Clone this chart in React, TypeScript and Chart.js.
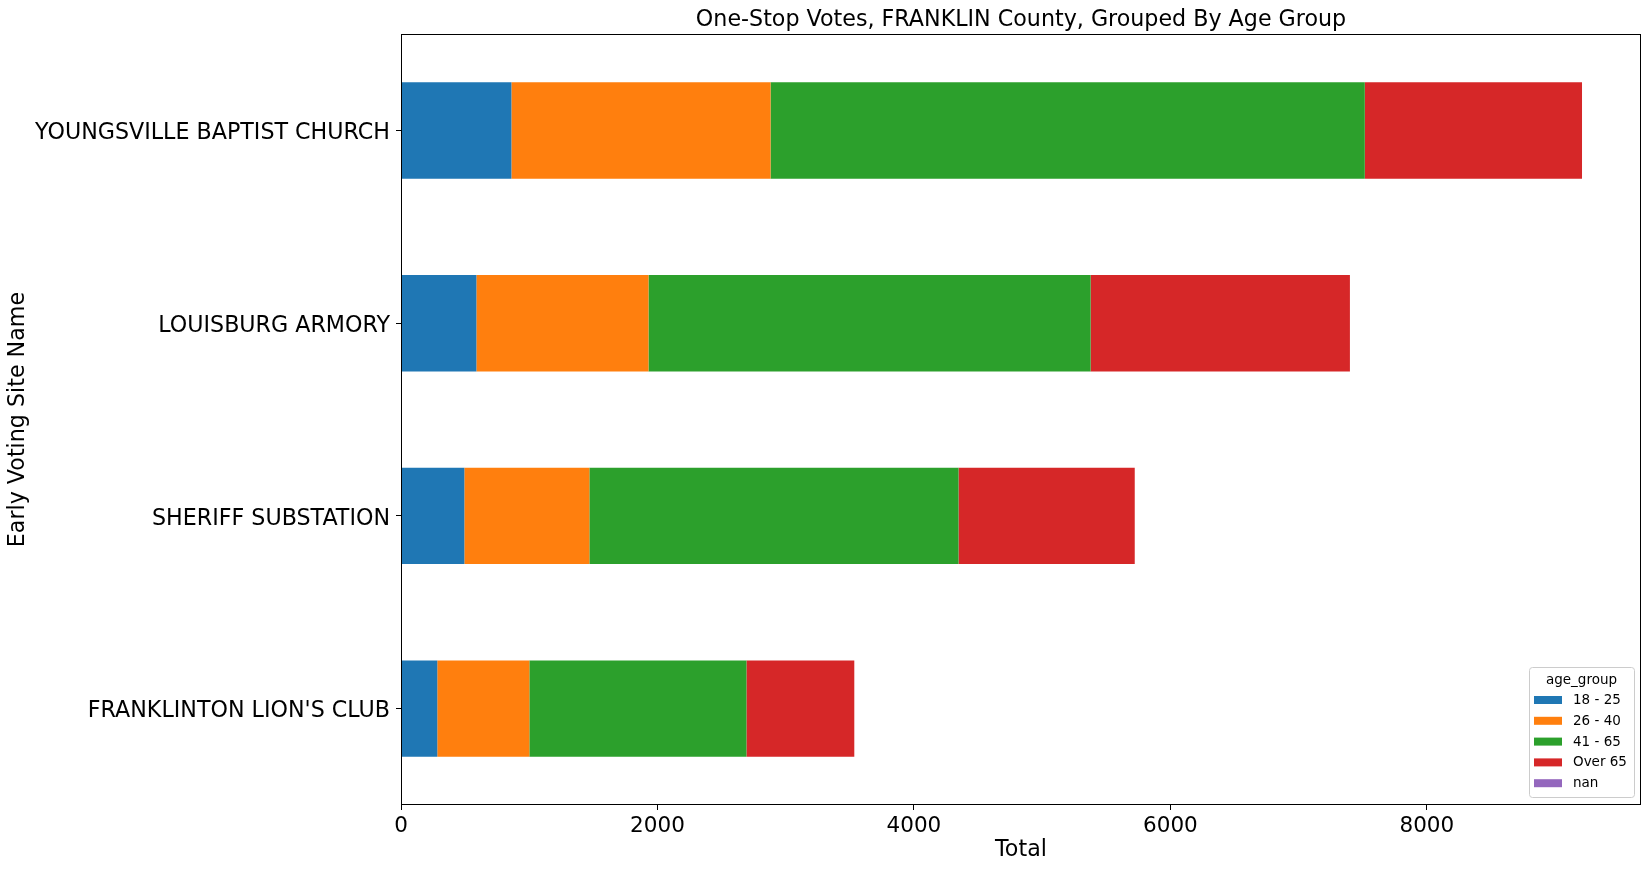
import React, { useEffect, useRef } from "react";
import { Chart, registerables } from "chart.js";

Chart.register(...registerables);

const titleText = "One-Stop Votes, FRANKLIN County, Grouped By Age Group";
const sites = [
  "YOUNGSVILLE BAPTIST CHURCH",
  "LOUISBURG ARMORY",
  "SHERIFF SUBSTATION",
  "FRANKLINTON LION'S CLUB",
];
const seriesNames = ["18 - 25", "26 - 40", "41 - 65", "Over 65", "nan"];
const age18to25 = [861, 588, 494, 283];
const age26to40 = [2021, 1342, 975, 718];
const age41to65 = [4634, 3448, 2879, 1693];
const ageOver65 = [1694, 2022, 1374, 841];
const ageNan: (number | null)[] = [null, null, null, null];
const seriesColors = ["#1f77b4", "#ff7f0e", "#2ca02c", "#d62728", "#9467bd"];
const xTickValues = [0, 2000, 4000, 6000, 8000];
const xMax = 9670;

const FONT = "'DejaVu Sans', 'Noto Sans', sans-serif";

const framePlugin = {
  id: "frame",
  afterDatasetsDraw(chart: any) {
    const { ctx, chartArea } = chart;
    ctx.save();
    ctx.strokeStyle = "#000";
    ctx.lineWidth = 1;
    const l = Math.round(chartArea.left) + 0.5;
    const t = Math.round(chartArea.top) + 0.5;
    const r = Math.round(chartArea.right) - 0.5;
    const b = Math.round(chartArea.bottom) - 0.5;
    ctx.strokeRect(l, t, r - l, b - t);
    ctx.restore();
  },
};

const legendPlugin = {
  id: "mplLegend",
  afterDraw(chart: any) {
    const { ctx, chartArea } = chart;
    const ds = chart.data.datasets;
    const w = 105;
    const h = 130;
    const x = chartArea.right - 7 - w;
    const y = chartArea.bottom - 8 - h;
    ctx.save();
    ctx.fillStyle = "rgba(255,255,255,0.8)";
    ctx.strokeStyle = "#cccccc";
    ctx.lineWidth = 1;
    ctx.beginPath();
    (ctx as any).roundRect(x + 0.5, y + 0.5, w, h, 3);
    ctx.fill();
    ctx.stroke();
    ctx.fillStyle = "#000";
    ctx.font = `13.5px ${FONT}`;
    ctx.textBaseline = "middle";
    ctx.textAlign = "center";
    ctx.fillText("age_group", x + w / 2, y + 13);
    ctx.textAlign = "left";
    ds.forEach((d: any, i: number) => {
      const cy = y + 33 + i * 20.8;
      ctx.fillStyle = d.backgroundColor;
      ctx.fillRect(x + 5, cy - 4, 28, 8);
      ctx.fillStyle = "#000";
      ctx.fillText(d.label, x + 44, cy + 0.5);
    });
    ctx.restore();
  },
};

export default function App() {
  const ref = useRef<HTMLCanvasElement | null>(null);

  useEffect(() => {
    if (!ref.current) return;
    const values = [age18to25, age26to40, age41to65, ageOver65, ageNan];
    const chart = new Chart(ref.current, {
      type: "bar",
      data: {
        labels: sites,
        datasets: seriesNames.map((name, i) => ({
          label: name,
          data: values[i] as any,
          backgroundColor: seriesColors[i],
          borderWidth: 0,
          barPercentage: 0.5,
          categoryPercentage: 1.0,
        })),
      },
      options: {
        indexAxis: "y",
        responsive: false,
        devicePixelRatio: 1,
        animation: false,
        layout: { padding: { left: 0, right: 9, top: 0, bottom: 0 } },
        plugins: {
          legend: { display: false },
          tooltip: { enabled: false },
          title: {
            display: true,
            text: titleText,
            color: "#000",
            fullSize: false,
            font: { family: FONT, size: 22.2, weight: "normal" },
            padding: { top: 6.5, bottom: 1 },
          },
        },
        scales: {
          x: {
            type: "linear",
            stacked: true,
            min: 0,
            max: xMax,
            afterBuildTicks: (s: any) => {
              s.ticks = xTickValues.map((v) => ({ value: v }));
            },
            afterFit: (s: any) => {
              s.height = 64;
            },
            grid: {
              display: true,
              drawOnChartArea: false,
              drawTicks: true,
              tickLength: 5,
              color: "#000",
              lineWidth: 1,
            },
            border: { display: false },
            ticks: {
              color: "#000",
              font: { family: FONT, size: 21.5 },
              padding: 4,
              maxRotation: 0,
              callback: (v: any) => String(v),
            },
            title: {
              display: true,
              text: "Total",
              color: "#000",
              font: { family: FONT, size: 22.2 },
              padding: { top: 0, bottom: 5.5 },
            },
          },
          y: {
            type: "category",
            stacked: true,
            offset: true,
            afterFit: (s: any) => {
              s.width = 401;
            },
            grid: {
              display: true,
              offset: false,
              drawOnChartArea: false,
              drawTicks: true,
              tickLength: 5,
              color: "#000",
              lineWidth: 1,
            },
            border: { display: false },
            ticks: {
              color: "#000",
              font: { family: FONT, size: 22.2 },
              padding: 6,
              labelOffset: 3,
            },
            title: {
              display: true,
              text: "Early Voting Site Name",
              color: "#000",
              font: { family: FONT, size: 22.2 },
              padding: { top: 5, bottom: 0 },
            },
          },
        },
      },
      plugins: [framePlugin, legendPlugin],
    } as any);
    return () => chart.destroy();
  }, []);

  return (
    <div style={{ position: "absolute", left: 0, top: 0, width: 1650, height: 869, background: "#fff" }}>
      <canvas ref={ref} width={1650} height={869} style={{ display: "block" }} />
    </div>
  );
}
